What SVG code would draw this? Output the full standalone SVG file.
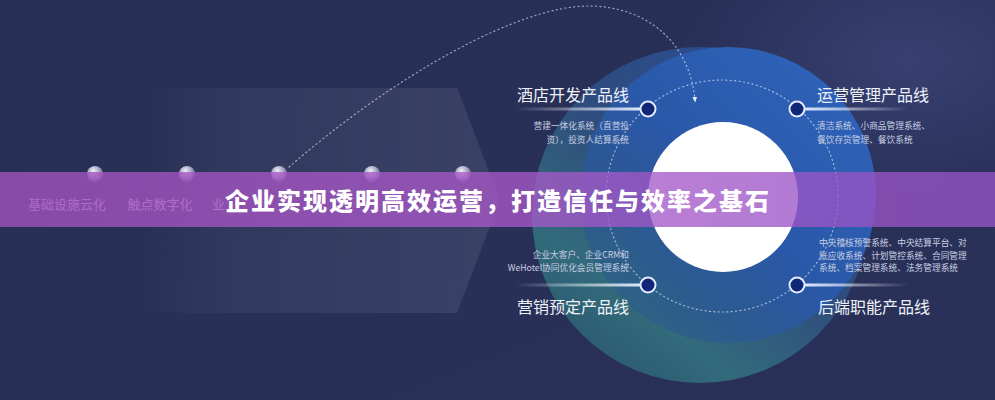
<svg xmlns="http://www.w3.org/2000/svg" width="995" height="400" viewBox="0 0 995 400">
  <defs>
    <linearGradient id="bg" x1="0" y1="0" x2="1" y2="1">
      <stop offset="0" stop-color="#272f55"/>
      <stop offset="0.6" stop-color="#283058"/>
      <stop offset="1" stop-color="#2a3159"/>
    </linearGradient>
    <radialGradient id="bgGlow" cx="0.5" cy="0.5" r="0.5">
      <stop offset="0" stop-color="#46508a" stop-opacity="0.5"/>
      <stop offset="1" stop-color="#46508a" stop-opacity="0"/>
    </radialGradient>
    <linearGradient id="chev" x1="140" y1="0" x2="500" y2="0" gradientUnits="userSpaceOnUse">
      <stop offset="0" stop-color="#ffffff" stop-opacity="0"/>
      <stop offset="0.25" stop-color="#ffffff" stop-opacity="0.045"/>
      <stop offset="1" stop-color="#ffffff" stop-opacity="0.085"/>
    </linearGradient>
    <linearGradient id="outerG" x1="0.85" y1="0.1" x2="0.2" y2="0.95">
      <stop offset="0" stop-color="#2b4f98"/>
      <stop offset="0.45" stop-color="#2f4f82"/>
      <stop offset="0.8" stop-color="#33717f"/>
      <stop offset="1" stop-color="#2c5f73"/>
    </linearGradient>
    <linearGradient id="innerG" x1="0.9" y1="0.15" x2="0.15" y2="0.9">
      <stop offset="0" stop-color="#2e62b8"/>
      <stop offset="0.5" stop-color="#2a58a8"/>
      <stop offset="1" stop-color="#2a5a8c" stop-opacity="0.5"/>
    </linearGradient>
    <linearGradient id="lineL" x1="0" y1="0" x2="1" y2="0">
      <stop offset="0" stop-color="#ffffff" stop-opacity="0"/>
      <stop offset="1" stop-color="#e8eeff" stop-opacity="0.95"/>
    </linearGradient>
    <linearGradient id="lineR" x1="0" y1="0" x2="1" y2="0">
      <stop offset="0" stop-color="#e8eeff" stop-opacity="0.95"/>
      <stop offset="1" stop-color="#ffffff" stop-opacity="0"/>
    </linearGradient>
    <radialGradient id="sphere" cx="0.4" cy="0.3" r="0.7">
      <stop offset="0" stop-color="#eeeef6"/>
      <stop offset="0.5" stop-color="#a9aac6"/>
      <stop offset="1" stop-color="#5a5e8a"/>
    </radialGradient>
    <linearGradient id="banner" x1="0" y1="0" x2="1" y2="0">
      <stop offset="0" stop-color="#a452be" stop-opacity="0.78"/>
      <stop offset="0.5" stop-color="#ab59cb" stop-opacity="0.75"/>
      <stop offset="1" stop-color="#9252c4" stop-opacity="0.8"/>
    </linearGradient>
    <marker id="arrow" viewBox="0 0 10 10" refX="5" refY="5" markerWidth="5" markerHeight="5" orient="auto">
      <path d="M0,1 L9,5 L0,9 z" fill="#e6ebff"/>
    </marker>
  </defs>
  <style>
    .cjk { font-family: "Noto Sans CJK SC", "Noto Sans", "Liberation Sans", sans-serif; }
    .ptitle { font-size: 16px; fill: #eef1f8; }
    .pdesc { font-size: 8.7px; fill: #c9cfe2; }
    .step { font-size: 13px; fill: #c7c4dc; }
    .num { font-size: 9px; fill: #ffffff; fill-opacity: 0.4; font-family: "Liberation Sans", sans-serif; text-anchor: middle; }
    .node { fill: #0e2877; stroke: #e4eaff; stroke-width: 2; }
    .dots { fill: none; stroke: #ffffff; stroke-opacity: 0.55; stroke-width: 1.2; stroke-dasharray: 1.2 3.2; stroke-linecap: round; }
    .title { font-size: 24px; font-weight: 900; fill: #ffffff; letter-spacing: 2px; }
  </style>

  <!-- background -->
  <rect x="0" y="0" width="995" height="400" fill="url(#bg)"/>
  <ellipse cx="910" cy="60" rx="230" ry="140" fill="url(#bgGlow)"/>

  <!-- big flow chevron -->
  <g id="flow-bg">
    <polygon points="140,88 457,88 500,200 457,313 140,313" fill="url(#chev)"/>
  </g>

  <!-- core circles -->
  <g id="core">
    <circle cx="700" cy="215" r="168" fill="url(#outerG)" fill-opacity="0.9"/>
    <circle cx="728" cy="195" r="148" fill="url(#innerG)"/>
    <circle cx="722" cy="196" r="116" class="dots"/>
    <circle cx="723" cy="197" r="75" fill="#ffffff"/>
  </g>

  <!-- steps -->
  <g id="step-01">
    <circle cx="95" cy="174" r="8" fill="url(#sphere)"/>
    <text x="95" y="178" class="num">01</text>
    <text x="67" y="209" class="cjk step" text-anchor="middle">基础设施云化</text>
  </g>
  <g id="step-02">
    <circle cx="187" cy="174" r="8" fill="url(#sphere)"/>
    <text x="187" y="178" class="num">02</text>
    <text x="160" y="209" class="cjk step" text-anchor="middle">触点数字化</text>
  </g>
  <g id="step-03">
    <circle cx="279" cy="174" r="8" fill="url(#sphere)"/>
    <text x="279" y="178" class="num">03</text>
    <text x="212" y="209" class="cjk step">业</text>
  </g>
  <g id="step-04">
    <circle cx="372" cy="174" r="8" fill="url(#sphere)"/>
    <text x="372" y="178" class="num">04</text>
  </g>
  <g id="step-05">
    <circle cx="463" cy="174" r="8" fill="url(#sphere)"/>
    <text x="463" y="178" class="num">05</text>
  </g>

  <!-- connectors -->
  <g id="connectors">
    <path d="M289,167 C395,75 520,5 590,6 C650,7 690,45 695,100" class="dots" marker-end="url(#arrow)"/>
  </g>

  <!-- product lines -->
  <g id="pl-hotel-dev">
    <rect x="515" y="107.5" width="127" height="3" fill="url(#lineL)"/>
    <circle cx="648" cy="109" r="7.5" class="node"/>
    <text x="629" y="101" class="cjk ptitle" text-anchor="end">酒店开发产品线</text>
    <text x="629" y="129" class="cjk pdesc" text-anchor="end">营建一体化系统（直营投</text>
    <text x="629" y="142.5" class="cjk pdesc" text-anchor="end">资），投资人结算系统</text>
  </g>
  <g id="pl-ops">
    <rect x="804" y="107.5" width="105" height="3" fill="url(#lineR)"/>
    <circle cx="797" cy="109" r="7.5" class="node"/>
    <text x="817" y="101" class="cjk ptitle">运营管理产品线</text>
    <text x="817" y="129" class="cjk pdesc">清洁系统、小商品管理系统、</text>
    <text x="817" y="142.5" class="cjk pdesc">餐饮存货管理、餐饮系统</text>
  </g>
  <g id="pl-marketing">
    <rect x="515" y="283.5" width="127" height="3" fill="url(#lineL)"/>
    <circle cx="648" cy="285" r="7.5" class="node"/>
    <text x="629" y="257.5" class="cjk pdesc" text-anchor="end">企业大客户、企业CRM和</text>
    <text x="629" y="270.5" class="cjk pdesc" text-anchor="end">WeHotel协同优化会员管理系统</text>
    <text x="629" y="313" class="cjk ptitle" text-anchor="end">营销预定产品线</text>
  </g>
  <g id="pl-backend">
    <rect x="804" y="283.5" width="105" height="3" fill="url(#lineR)"/>
    <circle cx="797" cy="285" r="7.5" class="node"/>
    <text x="819" y="246" class="cjk pdesc">中央稽核预警系统、中央结算平台、对</text>
    <text x="819" y="258.5" class="cjk pdesc">账应收系统、计划管控系统、合同管理</text>
    <text x="819" y="271" class="cjk pdesc">系统、档案管理系统、法务管理系统</text>
    <text x="818" y="313" class="cjk ptitle">后端职能产品线</text>
  </g>

  <!-- banner -->
  <g id="banner-title">
    <rect x="0" y="172" width="995" height="55" fill="url(#banner)"/>
    <text x="498" y="210" class="cjk title" text-anchor="middle">企业实现透明高效运营，打造信任与效率之基石</text>
  </g>
</svg>
